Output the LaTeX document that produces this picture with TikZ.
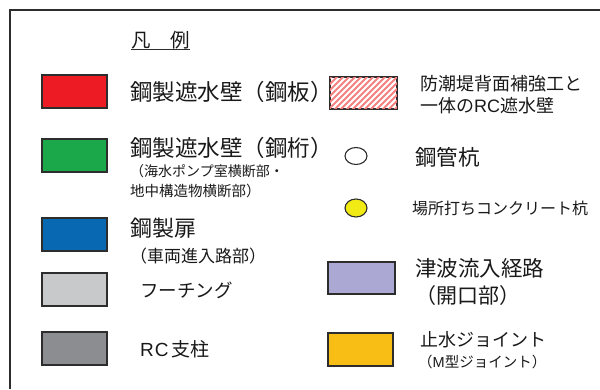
\documentclass[tikz,border=0pt]{standalone}
\usepackage{fontspec}
\setmainfont{Noto Sans CJK JP}
\newfontfamily\latinf{Liberation Sans}
\usetikzlibrary{shapes.geometric}
\definecolor{cRed}{RGB}{237,28,36}
\definecolor{cGreen}{RGB}{26,168,75}
\definecolor{cBlue}{RGB}{8,104,178}
\definecolor{cLGray}{RGB}{200,201,203}
\definecolor{cDGray}{RGB}{140,141,145}
\definecolor{cPurple}{RGB}{171,168,211}
\definecolor{cOrange}{RGB}{249,190,22}
\definecolor{cYellow}{RGB}{242,234,20}
\definecolor{cPink}{RGB}{245,130,130}
\definecolor{cLine}{RGB}{45,45,45}
\definecolor{cText}{RGB}{25,25,25}
\begin{document}
\begin{tikzpicture}[x=1pt,y=-1pt,
  swatch/.style={draw=cLine, line width=1.3pt, inner sep=0pt, minimum width=65pt, minimum height=33pt},
  lbl/.style={anchor=west, inner sep=0pt, text=cText, font=\fontsize{#1}{#1}\selectfont},
  pile/.style={draw=cLine, line width=1.1pt, ellipse, inner sep=0pt, minimum width=22pt, minimum height=17pt}]
\useasboundingbox (0,0) rectangle (600,389);
% frame
\draw[cLine, line width=1.5pt] (10,389) -- (10,10) -- (600,10);
% title
\node[lbl=19.5] (title) at (131,40) {凡　例};
\draw[cLine, line width=1pt] (131,49) -- (190,49);
% left column
\node[swatch, fill=cRed] (red) at (74.5,91.5) {};
\node[lbl=22.5] (redl) at (130,92) {鋼製遮水壁（鋼板）};
\node[swatch, fill=cGreen] (green) at (74.5,155.5) {};
\node[lbl=22.5] (greenl) at (130,148) {鋼製遮水壁（鋼桁）};
\node[lbl=14] (greenl2) at (130,171) {（海水ポンプ室横断部・};
\node[lbl=14.5] (greenl3) at (130,191) {地中構造物横断部）};
\node[swatch, fill=cBlue] (blue) at (74.5,234.5) {};
\node[lbl=22] (bluel) at (130,228) {鋼製扉};
\node[lbl=17] (bluel2) at (130,256) {（車両進入路部）};
\node[swatch, fill=cLGray] (lgray) at (74.5,289.5) {};
\node[lbl=18.5] (lgrayl) at (140,290) {フーチング};
\node[swatch, fill=cDGray] (dgray) at (74.5,348.5) {};
\node[lbl=19] (dgrayl) at (140,349) {{\latinf R\kern1pt C}\kern2.5pt 支柱};
% right column
\node[swatch, fill=white, minimum width=67pt, minimum height=32pt] (hatch) at (363.5,93) {};
\begin{scope}
  \clip (330,77) rectangle (397,109);
  \foreach \i in {0,...,18} {
    \draw[cPink, line width=1.9pt] ({296+6*\i},112) -- ({296+6*\i+36},76);
  }
\end{scope}
\draw[cLine, line width=1.3pt] (hatch.north west) rectangle (hatch.south east);
\node[lbl=18] (hatchl) at (420,84) {防潮堤背面補強工と};
\node[lbl=18] (hatchl2) at (420,106) {一体の{\latinf RC}遮水壁};
\node[pile, fill=white] (steelpile) at (356,156) {};
\node[lbl=21.5] (steelpilel) at (415,157) {鋼管杭};
\node[pile, fill=cYellow, minimum height=18pt] (castpile) at (356,208) {};
\node[lbl=16] (castpilel) at (412,208) {場所打ちコンクリート杭};
\node[swatch, fill=cPurple, minimum width=67pt, minimum height=32pt] (purple) at (361.5,278) {};
\node[lbl=21.5] (purplel) at (415,268) {津波流入経路};
\node[lbl=21] (purplel2) at (415,296) {（開口部）};
\node[swatch, fill=cOrange] (orange) at (360.5,349.5) {};
\node[lbl=18] (orangel) at (420,340) {止水ジョイント};
\node[lbl=14.5] (orangel2) at (418,362) {（{\latinf M}型ジョイント）};
\end{tikzpicture}
\end{document}
